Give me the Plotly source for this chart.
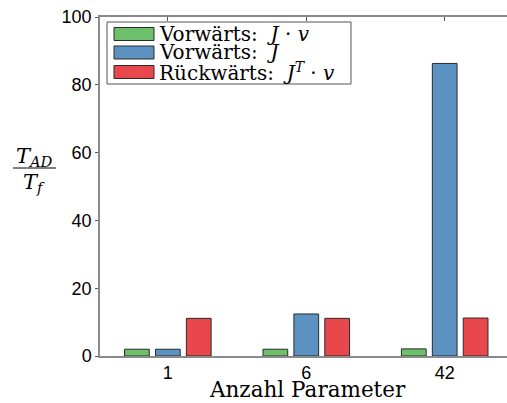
import plotly.graph_objects as go

# Number of parameters (categories on the x axis)
params = ["1", "6", "42"]

# Runtime ratio T_AD / T_f per AD mode
fwd_jv = [2.0, 2.0, 2.1]      # Vorwärts: J·v
fwd_j = [2.0, 12.4, 86.3]     # Vorwärts: J
rev_jtv = [11.1, 11.1, 11.2]  # Rückwärts: J^T·v

series_names = ["Vorwärts:  <i>J</i> · <i>v</i>",
                "Vorwärts:  <i>J</i>",
                "Rückwärts:  <i>J</i><sup><i>T</i></sup> · <i>v</i>"]
colors = ["#6dbf6a", "#5b92c2", "#e8474b"]

W, H = 507, 403
ML, MR, MT, MB = 100, 0, 17, 47
PW, PH = W - ML - MR, H - MT - MB


def px(x):
    return (x - ML) / PW


def py(y):
    return (H - MB - y) / PH


fig = go.Figure()
for vals, col, name in zip([fwd_jv, fwd_j, rev_jtv], colors, series_names):
    fig.add_trace(go.Bar(x=params, y=vals, name=name, marker_color=col,
                         marker_line_color="#2b2b2b", marker_line_width=1,
                         showlegend=False))

serif = "DejaVu Serif"
sans = "Liberation Sans"

shapes = []
annotations = []

# Legend box with wide swatches
shapes.append(dict(type="rect", xref="paper", yref="paper",
                   x0=px(107), x1=px(351), y0=py(22), y1=py(84),
                   line=dict(color="#555555", width=1), fillcolor="white"))
row_y = [34, 52.5, 72]
for yc, col, name in zip(row_y, colors, series_names):
    shapes.append(dict(type="rect", xref="paper", yref="paper",
                       x0=px(114), x1=px(154), y0=py(yc - 6.5), y1=py(yc + 6.5),
                       line=dict(color="#2b2b2b", width=1), fillcolor=col))
    annotations.append(dict(text=name, xref="paper", yref="paper",
                            x=px(157), y=py(yc), xanchor="left", yanchor="middle",
                            showarrow=False, font=dict(family=serif, size=20, color="black")))

# Y axis label as a stacked fraction
annotations.append(dict(text="<i>T</i><sub><i>AD</i></sub>", xref="paper", yref="paper",
                        x=px(34), y=py(157), xanchor="center", yanchor="middle",
                        showarrow=False, font=dict(family=serif, size=21, color="black")))
annotations.append(dict(text="<i>T</i><sub><i>f</i></sub>", xref="paper", yref="paper",
                        x=px(34), y=py(183), xanchor="center", yanchor="middle",
                        showarrow=False, font=dict(family=serif, size=21, color="black")))
shapes.append(dict(type="line", xref="paper", yref="paper",
                   x0=px(13), x1=px(56), y0=py(168), y1=py(168),
                   line=dict(color="black", width=1.2)))

# X axis title
annotations.append(dict(text="Anzahl Parameter", xref="paper", yref="paper",
                        x=px(307), y=py(389), xanchor="center", yanchor="middle",
                        showarrow=False, font=dict(family=serif, size=21.5, color="black")))

fig.update_layout(
    width=W, height=H,
    margin=dict(l=ML, r=MR, t=MT, b=MB, pad=0),
    paper_bgcolor="white", plot_bgcolor="white",
    barmode="group", bargap=0.33, bargroupgap=0.2,
    shapes=shapes, annotations=annotations,
    xaxis=dict(type="category", range=[-0.49, 2.45],
               showline=True, linecolor="#8a8a8a", linewidth=1.5,
               mirror="ticks", ticks="inside", ticklen=4, tickcolor="#555",
               layer="below traces", showgrid=False,
               tickfont=dict(family=sans, size=18, color="black")),
    yaxis=dict(range=[0, 100], tickvals=[0, 20, 40, 60, 80, 100],
               showline=True, linecolor="#8a8a8a", linewidth=1.5,
               ticks="outside", ticklen=3, tickcolor="#555",
               showgrid=False, zeroline=False,
               tickfont=dict(family=sans, size=18, color="black")),
)

fig.write_html("out.html")
